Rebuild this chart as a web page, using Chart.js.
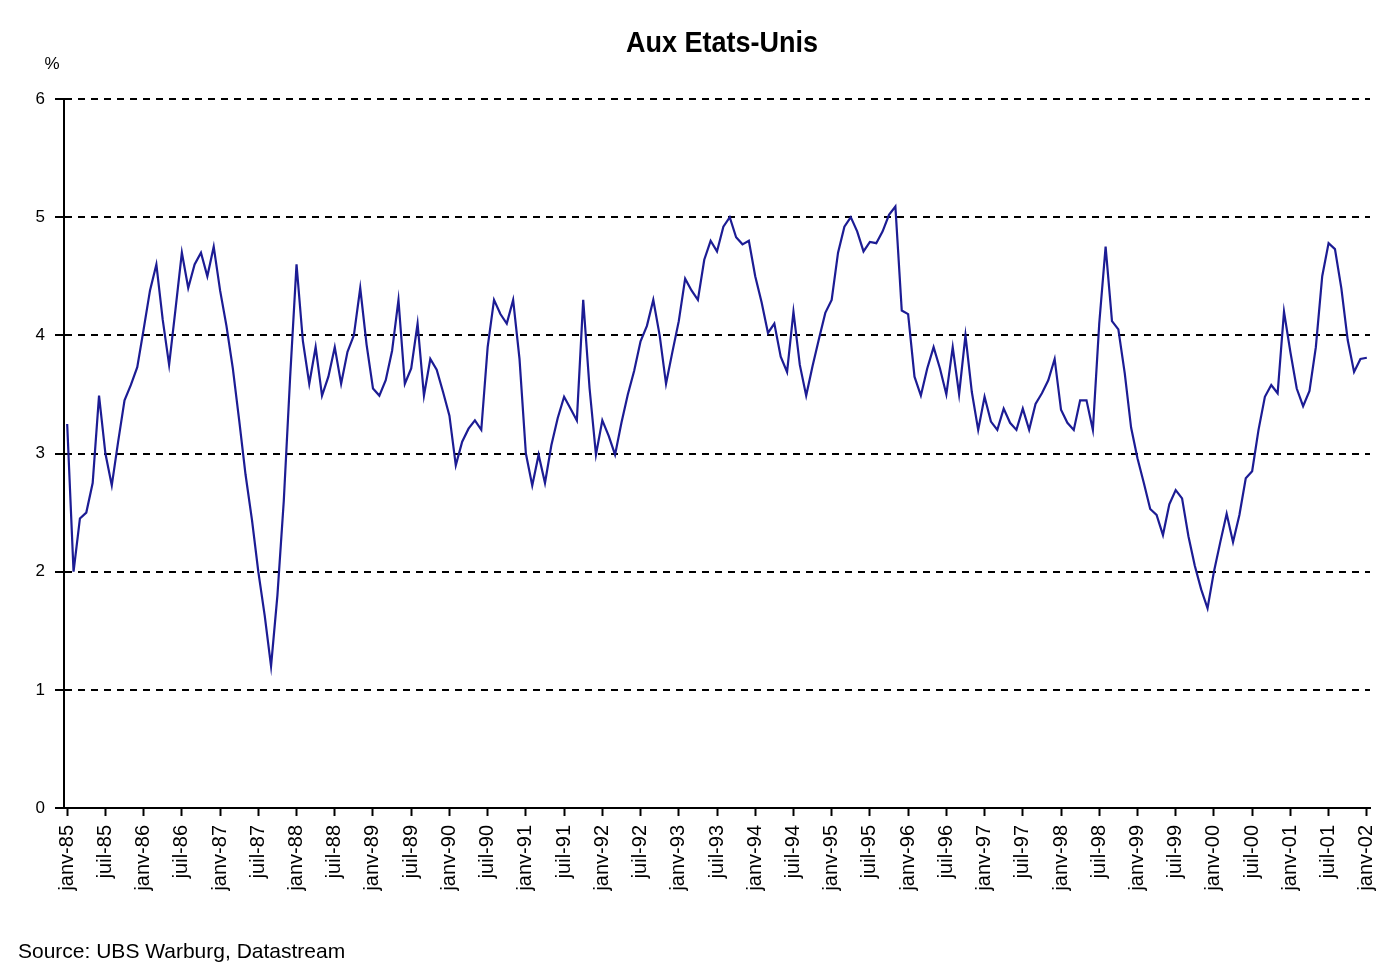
<!DOCTYPE html>
<html lang="fr">
<head>
<meta charset="utf-8">
<title>Aux Etats-Unis</title>
<script src="https://cdn.jsdelivr.net/npm/chart.js@4.4.1/dist/chart.umd.min.js"></script>
<style>
    html, body { margin: 0; padding: 0; background: #ffffff; }
    #wrap { width: 1378px; height: 963px; }
</style>
</head>
<body>
<div id="wrap"><canvas id="usChart" width="1378" height="963"></canvas></div>
<script>
// Années et mois (catégories de l'axe X)
const ANNEES = ['85', '86', '87', '88', '89', '90', '91', '92', '93', '94', '95', '96', '97', '98', '99', '00', '01', '02'];
const MOIS = ['janv', 'févr', 'mars', 'avr', 'mai', 'juin', 'juil', 'août', 'sept', 'oct', 'nov', 'déc'];

// Graduations de l'axe Y
const Y_TICKS = [0, 1, 2, 3, 4, 5, 6];

// Série mensuelle, janv-85 -> janv-02
const tauxUS = [
    3.25, 2.0, 2.45, 2.5, 2.75, 3.49, 3.0, 2.73, 3.1, 3.45, 3.58, 3.73,     // 1985
    4.05, 4.38, 4.6, 4.13, 3.75, 4.22, 4.7, 4.4, 4.6, 4.7, 4.5, 4.75,       // 1986
    4.38, 4.08, 3.72, 3.28, 2.82, 2.44, 2.0, 1.63, 1.2, 1.8, 2.6, 3.65,     // 1987
    4.6, 3.95, 3.59, 3.9, 3.49, 3.65, 3.9, 3.59, 3.86, 4.0, 4.4, 3.92,      // 1988
    3.55, 3.49, 3.62, 3.87, 4.3, 3.59, 3.72, 4.1, 3.49, 3.8, 3.71, 3.52,    // 1989
    3.32, 2.9, 3.1, 3.21, 3.28, 3.2, 3.9, 4.3, 4.18, 4.1, 4.3, 3.8,         // 1990
    3.0, 2.73, 2.99, 2.75, 3.07, 3.3, 3.48, 3.38, 3.28, 4.3, 3.55, 2.99,    // 1991
    3.28, 3.15, 2.99, 3.26, 3.5, 3.7, 3.95, 4.08, 4.3, 4.0, 3.59, 3.86,     // 1992
    4.12, 4.48, 4.38, 4.3, 4.64, 4.8, 4.71, 4.92, 5.0, 4.83, 4.77, 4.8,     // 1993
    4.5, 4.28, 4.02, 4.1, 3.82, 3.69, 4.2, 3.75, 3.49, 3.74, 3.97, 4.19,    // 1994
    4.3, 4.7, 4.92, 5.0, 4.88, 4.71, 4.79, 4.78, 4.88, 5.02, 5.09, 4.21,    // 1995
    4.18, 3.65, 3.49, 3.72, 3.9, 3.72, 3.5, 3.9, 3.5, 4.0, 3.52, 3.2,       // 1996
    3.48, 3.27, 3.2, 3.38, 3.26, 3.2, 3.38, 3.2, 3.42, 3.51, 3.62, 3.8,     // 1997
    3.37, 3.26, 3.2, 3.45, 3.45, 3.2, 4.1, 4.75, 4.12, 4.05, 3.68, 3.22,    // 1998
    2.96, 2.75, 2.53, 2.48, 2.31, 2.57, 2.69, 2.62, 2.3, 2.05, 1.85, 1.69,  // 1999
    2.0, 2.25, 2.49, 2.25, 2.48, 2.79, 2.85, 3.2, 3.48, 3.58, 3.51, 4.2,    // 2000
    3.86, 3.55, 3.4, 3.53, 3.9, 4.5, 4.78, 4.73, 4.4, 3.96, 3.69, 3.8,      // 2001
    3.81                                                                   // janv-02
];

// Libellés "janv-85", "févr-85", ... jusqu'à "janv-02"
const categories = [];
ANNEES.forEach((a, j) => {
    MOIS.forEach((m, i) => {
        if (j < ANNEES.length - 1 || i === 0) categories.push(m + '-' + a);
    });
});

const FONTE = '"Liberation Sans", Arial, Helvetica, sans-serif';
Chart.defaults.font.family = FONTE;
Chart.defaults.color = '#000';

// Fond blanc, titre, unité et source
const textesPlugin = {
    id: 'textes',
    beforeDraw(chart) {
        const ctx = chart.ctx;
        ctx.save();
        ctx.fillStyle = '#ffffff';
        ctx.fillRect(0, 0, chart.width, chart.height);
        ctx.restore();
    },
    afterDraw(chart) {
        const ctx = chart.ctx;
        ctx.save();
        ctx.fillStyle = '#000';

        // titre un peu étroit, comme l'original
        ctx.save();
        ctx.translate(722, 52);
        ctx.scale(0.9, 1);
        ctx.font = 'bold 30px ' + FONTE;
        ctx.textAlign = 'center';
        ctx.textBaseline = 'alphabetic';
        ctx.fillText('Aux Etats-Unis', 0, 0);
        ctx.restore();

        ctx.font = '17px ' + FONTE;
        ctx.textAlign = 'center';
        ctx.textBaseline = 'middle';
        ctx.fillText('%', 52, 64);

        ctx.font = '21px ' + FONTE;
        ctx.textAlign = 'left';
        ctx.textBaseline = 'alphabetic';
        ctx.fillText('Source: UBS Warburg, Datastream', 18, 958);
        ctx.restore();
    }
};

new Chart(document.getElementById('usChart'), {
    type: 'line',
    data: {
        labels: categories,
        datasets: [{
            label: 'Aux Etats-Unis',
            data: tauxUS,
            borderColor: '#1c1c94',
            borderWidth: 2.2,
            pointRadius: 0,
            tension: 0,
            fill: false
        }]
    },
    options: {
        responsive: false,
        animation: false,
        layout: { padding: { top: 99, right: 8, bottom: 0, left: 0 } },
        plugins: {
            legend: { display: false },
            title: { display: false },
            tooltip: { enabled: false }
        },
        scales: {
            x: {
                type: 'category',
                offset: true,
                grid: {
                    offset: false,
                    drawOnChartArea: false,
                    drawTicks: true,
                    tickLength: 8,
                    tickColor: '#000',
                    tickWidth: 2
                },
                border: { display: true, color: '#000', width: 2 },
                ticks: {
                    autoSkip: false,
                    maxRotation: 90,
                    minRotation: 90,
                    padding: 9,
                    color: '#000',
                    font: { size: 20 },
                    // un libellé tous les 6 mois (janv / juil)
                    callback: function (val, idx) {
                        return idx % 6 === 0 ? this.getLabelForValue(val) : null;
                    }
                },
                afterFit: s => {
                    s.height = 155;
                    s.paddingLeft = 0;
                    s.paddingRight = 0;
                }
            },
            y: {
                min: Y_TICKS[0],
                max: Y_TICKS[Y_TICKS.length - 1],
                afterBuildTicks: s => { s.ticks = Y_TICKS.map(v => ({ value: v })); },
                grid: {
                    color: '#000',
                    lineWidth: 2,
                    drawTicks: true,
                    tickLength: 9,
                    tickColor: '#000',
                    tickWidth: 2
                },
                border: { display: true, color: '#000', width: 2, dash: [7, 6] },
                ticks: {
                    padding: 10,
                    color: '#000',
                    font: { size: 17 }
                },
                afterFit: s => { s.width = 64; }
            }
        }
    },
    plugins: [textesPlugin]
});
</script>
</body>
</html>
